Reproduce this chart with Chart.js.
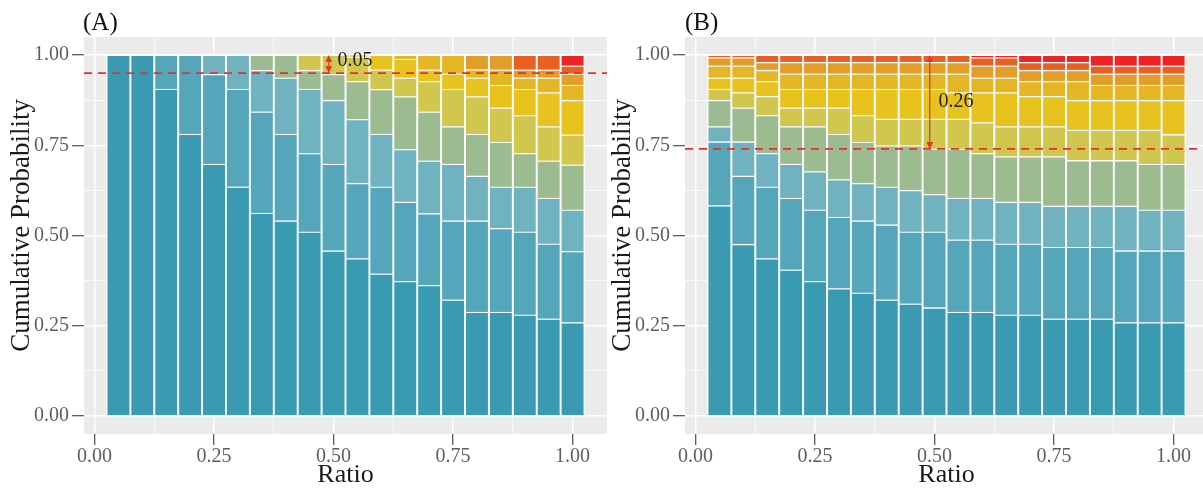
<!DOCTYPE html>
<html>
<head>
<meta charset="utf-8">
<script src="https://cdn.jsdelivr.net/npm/chart.js@4.4.1/dist/chart.umd.min.js"></script>
<style>
  html, body { margin: 0; padding: 0; background: #fff; overflow: hidden; }
  body { width: 1203px; height: 488px; position: relative; font-family: "Liberation Serif", serif; }
  .panel { position: absolute; top: 0; width: 607px; height: 488px; }
  .tag { position: absolute; top: 9px; font-size: 25px; line-height: 25px; color: #111; }
</style>
</head>
<body>
<div class="panel" style="left:0"><canvas id="chartA" width="607" height="488"></canvas></div>
<div class="panel" style="left:601px"><canvas id="chartB" width="607" height="488"></canvas></div>
<div class="tag" style="left:83px">(A)</div>
<div class="tag" style="left:685px">(B)</div>
<script>
// bar positions (ratio) and axis ticks
const ratios = [0.05, 0.10, 0.15, 0.20, 0.25, 0.30, 0.35, 0.40, 0.45, 0.50,
                0.55, 0.60, 0.65, 0.70, 0.75, 0.80, 0.85, 0.90, 0.95, 1.00];
const axisTicks = [0, 0.125, 0.25, 0.375, 0.5, 0.625, 0.75, 0.875, 1];

// cumulative probability at the top of each stacked segment, per bar (bottom -> top)
const cumA = [
  [1.0],
  [1.0],
  [0.906, 1.0],
  [0.781, 1.0],
  [0.698, 0.947, 1.0],
  [0.635, 0.906, 1.0],
  [0.562, 0.843, 0.958, 1.0],
  [0.541, 0.781, 0.937, 1.0],
  [0.510, 0.728, 0.906, 0.958, 1.0],
  [0.458, 0.698, 0.875, 0.947, 1.0],
  [0.436, 0.645, 0.822, 0.927, 0.995, 1.0],
  [0.394, 0.635, 0.781, 0.905, 0.959, 1.0],
  [0.373, 0.593, 0.739, 0.885, 0.937, 0.989, 1.0],
  [0.362, 0.561, 0.707, 0.843, 0.927, 0.959, 1.0],
  [0.322, 0.541, 0.698, 0.802, 0.906, 0.948, 1.0],
  [0.288, 0.541, 0.665, 0.781, 0.885, 0.937, 0.960, 1.0],
  [0.288, 0.520, 0.635, 0.759, 0.854, 0.917, 0.959, 1.0],
  [0.280, 0.510, 0.635, 0.728, 0.833, 0.906, 0.937, 0.959, 1.0],
  [0.269, 0.477, 0.604, 0.707, 0.802, 0.896, 0.937, 0.959, 1.0],
  [0.259, 0.456, 0.571, 0.696, 0.779, 0.875, 0.917, 0.948, 0.970, 1.0]
];
const cumB = [
  [0.583, 0.760, 0.802, 0.875, 0.906, 0.937, 0.970, 0.993, 1.0],
  [0.476, 0.665, 0.760, 0.854, 0.896, 0.937, 0.970, 0.993, 1.0],
  [0.436, 0.635, 0.728, 0.833, 0.886, 0.927, 0.958, 0.980, 1.0],
  [0.405, 0.604, 0.698, 0.802, 0.854, 0.906, 0.948, 0.980, 1.0],
  [0.373, 0.571, 0.677, 0.802, 0.854, 0.906, 0.948, 0.980, 1.0],
  [0.353, 0.551, 0.655, 0.781, 0.854, 0.906, 0.948, 0.980, 1.0],
  [0.341, 0.541, 0.645, 0.759, 0.833, 0.906, 0.948, 0.980, 1.0],
  [0.322, 0.530, 0.635, 0.749, 0.823, 0.906, 0.948, 0.980, 1.0],
  [0.311, 0.510, 0.625, 0.749, 0.823, 0.906, 0.948, 0.980, 1.0],
  [0.300, 0.510, 0.614, 0.740, 0.823, 0.906, 0.948, 0.980, 1.0],
  [0.288, 0.488, 0.604, 0.740, 0.823, 0.896, 0.948, 0.980, 1.0],
  [0.288, 0.488, 0.604, 0.728, 0.813, 0.896, 0.937, 0.970, 0.993, 1.0],
  [0.280, 0.477, 0.593, 0.719, 0.802, 0.896, 0.937, 0.970, 0.993, 1.0],
  [0.280, 0.477, 0.593, 0.719, 0.802, 0.886, 0.927, 0.958, 0.980, 1.0],
  [0.269, 0.468, 0.582, 0.719, 0.802, 0.886, 0.927, 0.958, 0.980, 1.0],
  [0.269, 0.468, 0.582, 0.708, 0.792, 0.875, 0.927, 0.958, 0.980, 1.0],
  [0.269, 0.468, 0.582, 0.708, 0.792, 0.875, 0.917, 0.948, 0.970, 1.0],
  [0.259, 0.458, 0.582, 0.708, 0.792, 0.875, 0.917, 0.948, 0.970, 1.0],
  [0.259, 0.458, 0.571, 0.698, 0.792, 0.875, 0.917, 0.948, 0.970, 1.0],
  [0.259, 0.458, 0.571, 0.698, 0.780, 0.875, 0.917, 0.948, 0.970, 1.0]
];

// dashed cut-off level and the gap to 1 that the arrow marks
const cutLevels = [0.95, 0.74];
const gapLabels = ['0.05', '0.26'];
const gapLabelY = [0.985, 0.87];

const colours = ['#3A9AB2', '#55A6BB', '#71B2C1', '#9DBB90', '#D1C64E',
                 '#E8C31F', '#E4B626', '#E39E29', '#E86024', '#EE2326'];

const serif = '"Liberation Serif", "Times New Roman", serif';

function isMajor(v) {
  return Math.abs(v * 4 - Math.round(v * 4)) < 1e-9;
}

// one dataset per level, segment height = difference of cumulative values
function buildDatasets(cum) {
  return colours.map(function(c, k) {
    const pts = [];
    cum.forEach(function(bar, i) {
      if (k < bar.length) {
        pts.push({ x: ratios[i], y: +(bar[k] - (k ? bar[k - 1] : 0)).toFixed(4) });
      }
    });
    return {
      data: pts,
      backgroundColor: c,
      borderColor: '#ffffff',
      borderWidth: 1.3,
      borderSkipped: 'start',
      barPercentage: 1,
      categoryPercentage: 1
    };
  });
}

const panelBg = {
  id: 'panelBg',
  beforeDraw(chart) {
    const { ctx, chartArea: a } = chart;
    ctx.save();
    ctx.fillStyle = '#EBEBEB';
    ctx.fillRect(a.left, a.top, a.right - a.left, a.bottom - a.top);
    ctx.restore();
  }
};

const cutoff = {
  id: 'cutoff',
  afterDatasetsDraw(chart, args, opts) {
    const { ctx, chartArea: a, scales } = chart;
    const x = scales.x, y = scales.y;
    const yl = y.getPixelForValue(opts.level);
    const yt = y.getPixelForValue(1);
    const xa = x.getPixelForValue(0.49);
    ctx.save();
    ctx.strokeStyle = '#E5312D';
    ctx.lineWidth = 1.6;
    ctx.setLineDash([8, 6]);
    ctx.beginPath();
    ctx.moveTo(a.left, yl);
    ctx.lineTo(a.right, yl);
    ctx.stroke();

    ctx.setLineDash([]);
    ctx.strokeStyle = '#DB3A2C';
    ctx.fillStyle = '#DB3A2C';
    ctx.lineWidth = 1.3;
    ctx.beginPath();
    ctx.moveTo(xa, yt + 2);
    ctx.lineTo(xa, yl - 2);
    ctx.stroke();
    // arrow heads
    ctx.beginPath();
    ctx.moveTo(xa, yt); ctx.lineTo(xa - 3.5, yt + 7); ctx.lineTo(xa + 3.5, yt + 7); ctx.closePath();
    ctx.fill();
    ctx.beginPath();
    ctx.moveTo(xa, yl); ctx.lineTo(xa - 3.5, yl - 7); ctx.lineTo(xa + 3.5, yl - 7); ctx.closePath();
    ctx.fill();

    ctx.fillStyle = '#222';
    ctx.font = '20px ' + serif;
    ctx.textAlign = 'center';
    ctx.textBaseline = 'middle';
    ctx.fillText(opts.label, x.getPixelForValue(0.545), y.getPixelForValue(opts.labelY));
    ctx.restore();
  }
};

function gridOpts(len) {
  return {
    offset: false,
    color: '#ffffff',
    lineWidth: function(c) { return c.tick && isMajor(c.tick.value) ? 1.4 : 0.7; },
    drawTicks: true,
    tickLength: len,
    tickWidth: 1.2,
    tickColor: function(c) { return c.tick && isMajor(c.tick.value) ? '#4d4d4d' : 'rgba(0,0,0,0)'; }
  };
}

function tickLabel(v) {
  return isMajor(v) ? v.toFixed(2) : '';
}

function makeChart(id, cum, p) {
  return new Chart(document.getElementById(id), {
    type: 'bar',
    data: { datasets: buildDatasets(cum) },
    options: {
      responsive: false,
      animation: false,
      devicePixelRatio: 1,
      layout: { padding: { top: 37, right: 0, left: 0, bottom: 0 } },
      plugins: {
        legend: { display: false },
        tooltip: { enabled: false },
        cutoff: { level: cutLevels[p], label: gapLabels[p], labelY: gapLabelY[p] }
      },
      scales: {
        x: {
          type: 'linear',
          stacked: true,
          offset: false,
          min: -0.022,
          max: 1.072,
          afterBuildTicks: function(s) { s.ticks = axisTicks.map(function(v) { return { value: v }; }); },
          afterFit: function(s) { s.height = 54; },
          grid: gridOpts(11),
          border: { display: false },
          ticks: {
            autoSkip: false,
            maxRotation: 0,
            padding: 0,
            color: '#5e5e5e',
            font: { family: serif, size: 20 },
            callback: tickLabel
          },
          title: {
            display: true,
            text: 'Ratio',
            color: '#1a1a1a',
            font: { family: serif, size: 26, lineHeight: 1 },
            padding: { top: 0, bottom: 0 }
          }
        },
        y: {
          stacked: true,
          min: -0.05,
          max: 1.05,
          afterBuildTicks: function(s) { s.ticks = axisTicks.map(function(v) { return { value: v }; }); },
          afterFit: function(s) { s.width = 84; },
          grid: gridOpts(12),
          border: { display: false },
          ticks: {
            autoSkip: false,
            padding: 3,
            color: '#5e5e5e',
            font: { family: serif, size: 20 },
            callback: tickLabel
          },
          title: {
            display: true,
            text: '\u00A0\u00A0\u00A0Cumulative Probability',
            color: '#1a1a1a',
            font: { family: serif, size: 27, lineHeight: 1.2 },
            padding: { top: 6, bottom: 0 }
          }
        }
      }
    },
    plugins: [panelBg, cutoff]
  });
}

makeChart('chartA', cumA, 0);
makeChart('chartB', cumB, 1);
</script>
</body>
</html>
